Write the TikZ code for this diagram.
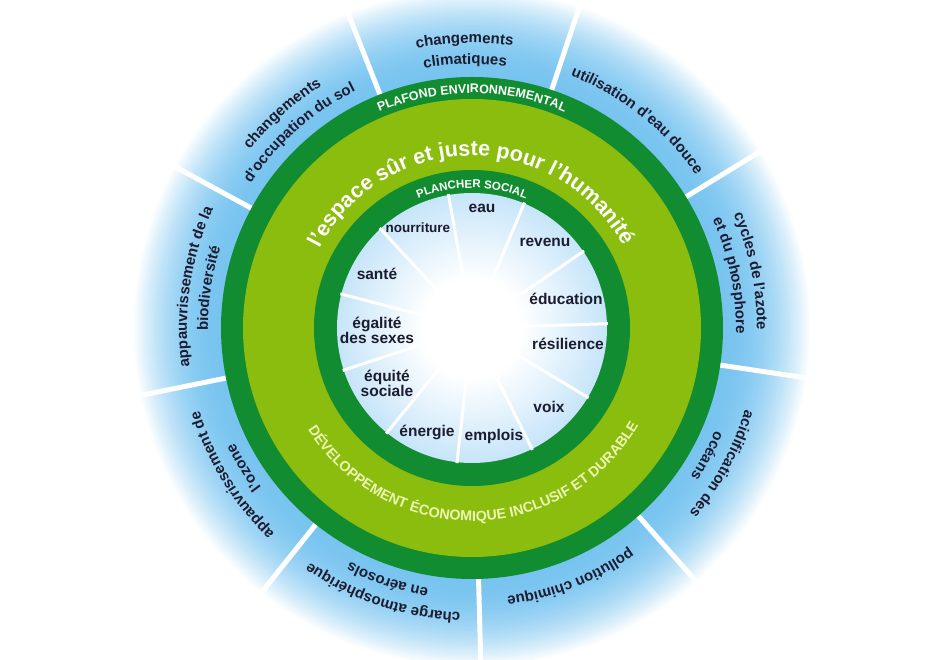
\documentclass[tikz,border=0pt]{standalone}
\usepackage{fontspec}
\setmainfont{Liberation Sans}
\usetikzlibrary{decorations.text}
\definecolor{dkgreen}{RGB}{18,140,48}
\definecolor{ltgreen}{RGB}{139,189,14}
\definecolor{skyA}{RGB}{120,196,240}
\definecolor{innerblue}{RGB}{112,190,236}
\definecolor{innermid}{RGB}{188,224,248}
\definecolor{labelc}{RGB}{28,28,48}
\definecolor{paleyel}{RGB}{236,246,178}
\pgfdeclareradialshading{innersky}{\pgfpoint{0bp}{0bp}}{color(0bp)=(white); color(9bp)=(white); color(28bp)=(innermid); color(50bp)=(innerblue); color(70bp)=(innerblue)}
\newcommand\outfmt{\bfseries\fontsize{15}{18}\selectfont\color{labelc}}
\newcommand\cwlabel[5]{\path[decorate,decoration={text along path,text align=center,text={|#4|#5}}] (#1+#2:#3) arc[start angle=#1+#2,end angle=#1-#2,radius=#3];}
\tikzset{
  inlab/.style={font=\bfseries\fontsize{15.5}{15}\selectfont, text=labelc, align=center, inner sep=0pt},
  sep/.style={white, line width=5pt},
  spoke/.style={white, line width=3pt}
}
\begin{document}
\begin{tikzpicture}[x=1pt,y=1pt]
\useasboundingbox (-472,-332) rectangle (478,328);
\clip (-472,-332) rectangle (478,328);
\fill[white] (-472,-332) rectangle (478,328);
% outer blue disc, fading to white
\foreach \rr in {345,343,...,253} {
  \pgfmathsetmacro\pp{max(0,min(100,100*(1-((\rr-251)/89)^2)))}
  \fill[skyA!\pp!white] (0,0) circle (\rr);
}
\foreach \k in {0,...,8} \draw[sep] ({111.5-40*\k}:250) -- ({111.5-40*\k}:345);
% rings
\fill[dkgreen] (0,0) circle (251);
\fill[ltgreen] (0,0) circle (229);
\fill[dkgreen] (0,0) circle (158);
\shade[shading=innersky] (0,0) circle (135);
\foreach \k in {0,...,10} \draw[spoke] (0,0) -- ({100-32.7273*\k}:136);
% outer labels
\cwlabel{91.5}{30}{285}{\outfmt}{changements}
\cwlabel{91.5}{30}{264}{\outfmt}{climatiques}
\cwlabel{51.5}{30}{271}{\outfmt}{utilisation d'eau douce}
\cwlabel{11.5}{30}{285}{\outfmt}{cycles de l'azote}
\cwlabel{11.5}{30}{264}{\outfmt}{et du phosphore}
\cwlabel{-28.5}{30}{285}{\outfmt}{acidification des}
\cwlabel{-28.5}{30}{264}{\outfmt}{océans}
\cwlabel{-68.5}{30}{271}{\outfmt}{pollution chimique}
\cwlabel{-108.5}{30}{285}{\outfmt}{charge atmosphérique}
\cwlabel{-108.5}{30}{264}{\outfmt}{en aérosols}
\cwlabel{-148.5}{30}{285}{\outfmt}{appauvrissement de}
\cwlabel{-148.5}{30}{264}{\outfmt}{l'ozone}
\cwlabel{171.5}{30}{285}{\outfmt}{appauvrissement de la}
\cwlabel{171.5}{30}{264}{\outfmt}{biodiversité}
\cwlabel{131.5}{30}{285}{\outfmt}{changements}
\cwlabel{131.5}{30}{264}{\outfmt}{d'occupation du sol}
% ring labels
\cwlabel{90}{60}{235}{\bfseries\fontsize{12.5}{14}\selectfont\color{white}}{PLAFOND ENVIRONNEMENTAL}
\cwlabel{90.5}{85}{172}{\bfseries\fontsize{21.5}{24}\selectfont\color{white}}{l'espace sûr et juste pour l'humanité}
\cwlabel{90}{60}{140}{\bfseries\fontsize{11.5}{13}\selectfont\color{white}}{PLANCHER SOCIAL}
\path[decorate,decoration={text along path,text align=center,text={|\bfseries\fontsize{14.3}{16}\selectfont\color{paleyel}|DÉVELOPPEMENT ÉCONOMIQUE INCLUSIF ET DURABLE}}] (185.7:193) arc[start angle=185.7,end angle=355.7,radius=193];
% inner labels
\node[inlab] (eau) at (10,120) {eau};
\node[inlab, font=\bfseries\fontsize{13.5}{15}\selectfont] (nourriture) at (-54,100) {nourriture};
\node[inlab] (revenu) at (73,86) {revenu};
\node[inlab] (sante) at (-95,54) {santé};
\node[inlab] (education) at (94,29) {éducation};
\node[inlab] (egalite) at (-95,-2) {égalité\\des sexes};
\node[inlab] (resilience) at (96,-16) {résilience};
\node[inlab] (equite) at (-85,-55) {équité\\sociale};
\node[inlab] (voix) at (77,-79) {voix};
\node[inlab] (energie) at (-45,-104) {énergie};
\node[inlab] (emplois) at (22,-108) {emplois};
\end{tikzpicture}
\end{document}
